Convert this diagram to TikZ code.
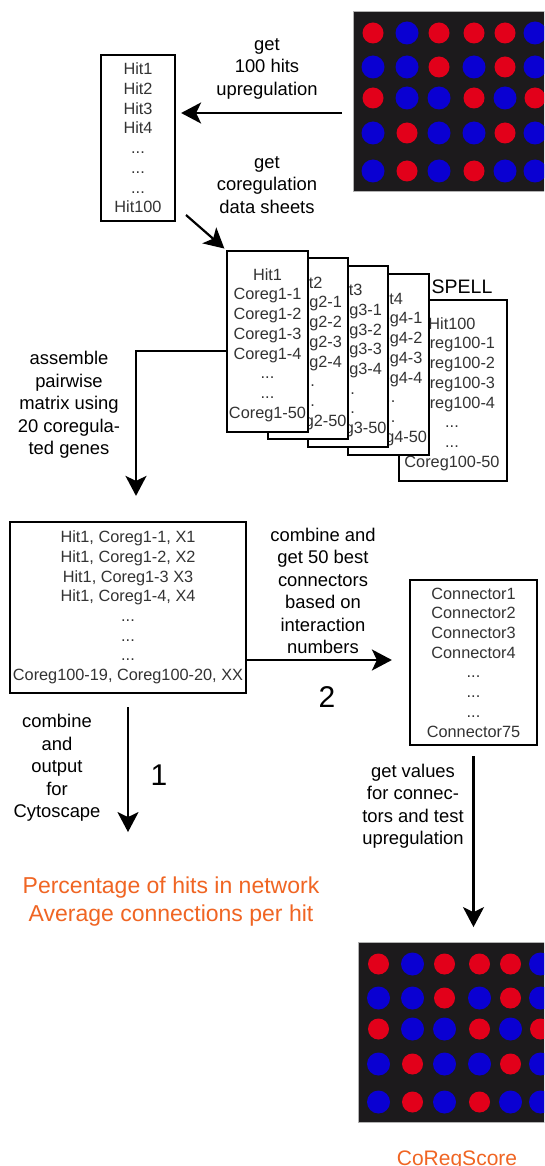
\documentclass[tikz,border=0pt]{standalone}
\usepackage{fontspec}
\setmainfont{Liberation Sans}
\usetikzlibrary{arrows.meta}
\definecolor{orng}{RGB}{240,101,35}
\definecolor{dotred}{RGB}{226,0,26}
\definecolor{dotblue}{RGB}{10,0,210}
\definecolor{gridbg}{RGB}{28,26,28}
\newcommand\drawdots{%
  \foreach \yy/\cols in {33/{rd,bd,rd,rd,rd,bd},67/{bd,bd,rd,bd,rd,bd},98/{rd,bd,bd,rd,bd,rd},133/{bd,rd,bd,bd,rd,bd},171/{bd,rd,bd,rd,bd,bd}}{%
    \foreach \dc [count=\i] in \cols {%
      \pgfmathsetmacro\xx{{373,407,439,474,505,535}[\i-1]}%
      \fill[\dc] (\xx,\yy) circle;}}}
\begin{document}
\begin{tikzpicture}[x=1pt,y=-1pt,
  rd/.style={fill=dotred, radius=10.5pt},
  bd/.style={fill=dotblue, radius=11.5pt},
  gridbox/.style={fill=gridbg, draw=gray!60, line width=0.8pt, minimum width=197pt, minimum height=180pt, inner sep=0pt},
  boxtext/.style={font=\fontsize{16.3}{19.7}\selectfont, text=black!80, align=center, inner sep=0pt},
  listbox/.style={draw=black, line width=2.2pt, fill=white, inner sep=0pt, font=\fontsize{16.3}{19.7}\selectfont, text=black!80, align=center},
  lbl/.style={font=\fontsize{18.4}{22.5}\selectfont, align=center, inner sep=0pt},
  flow/.style={line width=2.2pt, -{Stealth[length=20pt,width=21pt,inset=5pt]}},
  numlbl/.style={font=\fontsize{30}{30}\selectfont, inner sep=0pt},
  resultlbl/.style={text=orng, font=\fontsize{23}{28}\selectfont, align=center, inner sep=0pt},
]
\useasboundingbox (0,0) rectangle (544,1166);
\fill[white] (0,0) rectangle (544,1166);
\clip (0,0) rectangle (544,1166);

% top grid
\node[gridbox] (topgrid) at (451.5,101) {};
\drawdots
% bottom grid
\node[gridbox] (botgrid) at (456.5,1032.5) {};
\begin{scope}[shift={(5.5,931)}]
\drawdots
\end{scope}

% hit list
\node[listbox, minimum width=74pt, minimum height=166pt] (hits) at (138,138)
  {Hit1\\Hit2\\Hit3\\Hit4\\...\\...\\...\\Hit100};

% sheets (back to front)
\node[listbox, minimum width=108pt, minimum height=181pt] (s5) at (453,390.5) {};
\node[boxtext] (s5t) at (452,394) {Hit100\\Coreg100-1\\Coreg100-2\\Coreg100-3\\Coreg100-4\\...\\...\\Coreg100-50};
\node[listbox, minimum width=81pt, minimum height=181pt] (s4) at (388.5,364.5) {};
\node[boxtext] (s4t) at (388.5,369) {Hit4\\Coreg4-1\\Coreg4-2\\Coreg4-3\\Coreg4-4\\...\\...\\Coreg4-50};
\node[listbox, minimum width=80pt, minimum height=181pt] (s3) at (348,356.5) {};
\node[boxtext] (s3t) at (348,360.5) {Hit3\\Coreg3-1\\Coreg3-2\\Coreg3-3\\Coreg3-4\\...\\...\\Coreg3-50};
\node[listbox, minimum width=80pt, minimum height=181pt] (s2) at (308,348.5) {};
\node[boxtext] (s2t) at (308,353) {Hit2\\Coreg2-1\\Coreg2-2\\Coreg2-3\\Coreg2-4\\...\\...\\Coreg2-50};
\node[listbox, minimum width=81pt, minimum height=181pt] (s1) at (267.5,341.5) {};
\node[boxtext] (s1t) at (267.5,345) {Hit1\\Coreg1-1\\Coreg1-2\\Coreg1-3\\Coreg1-4\\...\\...\\Coreg1-50};
\node[font=\fontsize{19.5}{20}\selectfont, inner sep=0pt] (spell) at (462,287) {SPELL};

% matrix
\node[listbox, minimum width=236pt, minimum height=171pt] (matrix) at (128,607.5)
  {Hit1, Coreg1-1, X1\\Hit1, Coreg1-2, X2\\Hit1, Coreg1-3 X3\\Hit1, Coreg1-4, X4\\...\\...\\...\\Coreg100-19, Coreg100-20, XX};

% connectors box
\node[listbox, minimum width=127pt, minimum height=165pt] (conn) at (473.5,662.5)
  {Connector1\\Connector2\\Connector3\\Connector4\\...\\...\\...\\Connector75};

% labels
\node[lbl] (lblA) at (267,68.5) {get\\100 hits\\upregulation};
\node[lbl] (lblB) at (267,185) {get\\coregulation\\data sheets};
\node[lbl] (lblC) at (69,405) {assemble\\pairwise\\matrix using\\20 coregula-\\ted genes};
\node[lbl] (lblD) at (323,591) {combine and\\get 50 best\\connectors\\based on\\interaction\\numbers};
\node[lbl] (lblE) at (57,768) {combine\\and\\output\\for\\Cytoscape};
\node[lbl] (lblF) at (413,806) {get values\\for connec-\\tors and test\\upregulation};
\node[numlbl] (two) at (327,697) {2};
\node[numlbl] (one) at (159,775) {1};
\node[resultlbl] (result) at (171,902) {Percentage of hits in network\\Average connections per hit};
\node[resultlbl, font=\fontsize{21}{24}\selectfont, anchor=base] (score) at (457,1165) {CoRegScore};

% connectors
\coordinate (gridtail) at (342,113);
\draw[flow, shorten >=5pt] (gridtail) -- (hits.east |- gridtail);
\coordinate (diagtail) at (186,215);
\draw[flow, shorten >=2pt] (diagtail) -- (s1.north west);
\coordinate (elbow) at (136,351);
\draw[flow, shorten >=25pt] (s1.west |- elbow) -- (elbow) -- (elbow |- matrix.north);
\coordinate (a2) at (246,660);
\draw[flow, shorten >=17pt] (a2) -- (a2 -| conn.west);
\draw[flow, shorten <=13pt, shorten >=45pt] (matrix.south) -- (matrix.south |- result.north);
\draw[flow, shorten <=10pt, shorten >=15pt] (conn.south) -- (conn.south |- botgrid.north);
\end{tikzpicture}
\end{document}
